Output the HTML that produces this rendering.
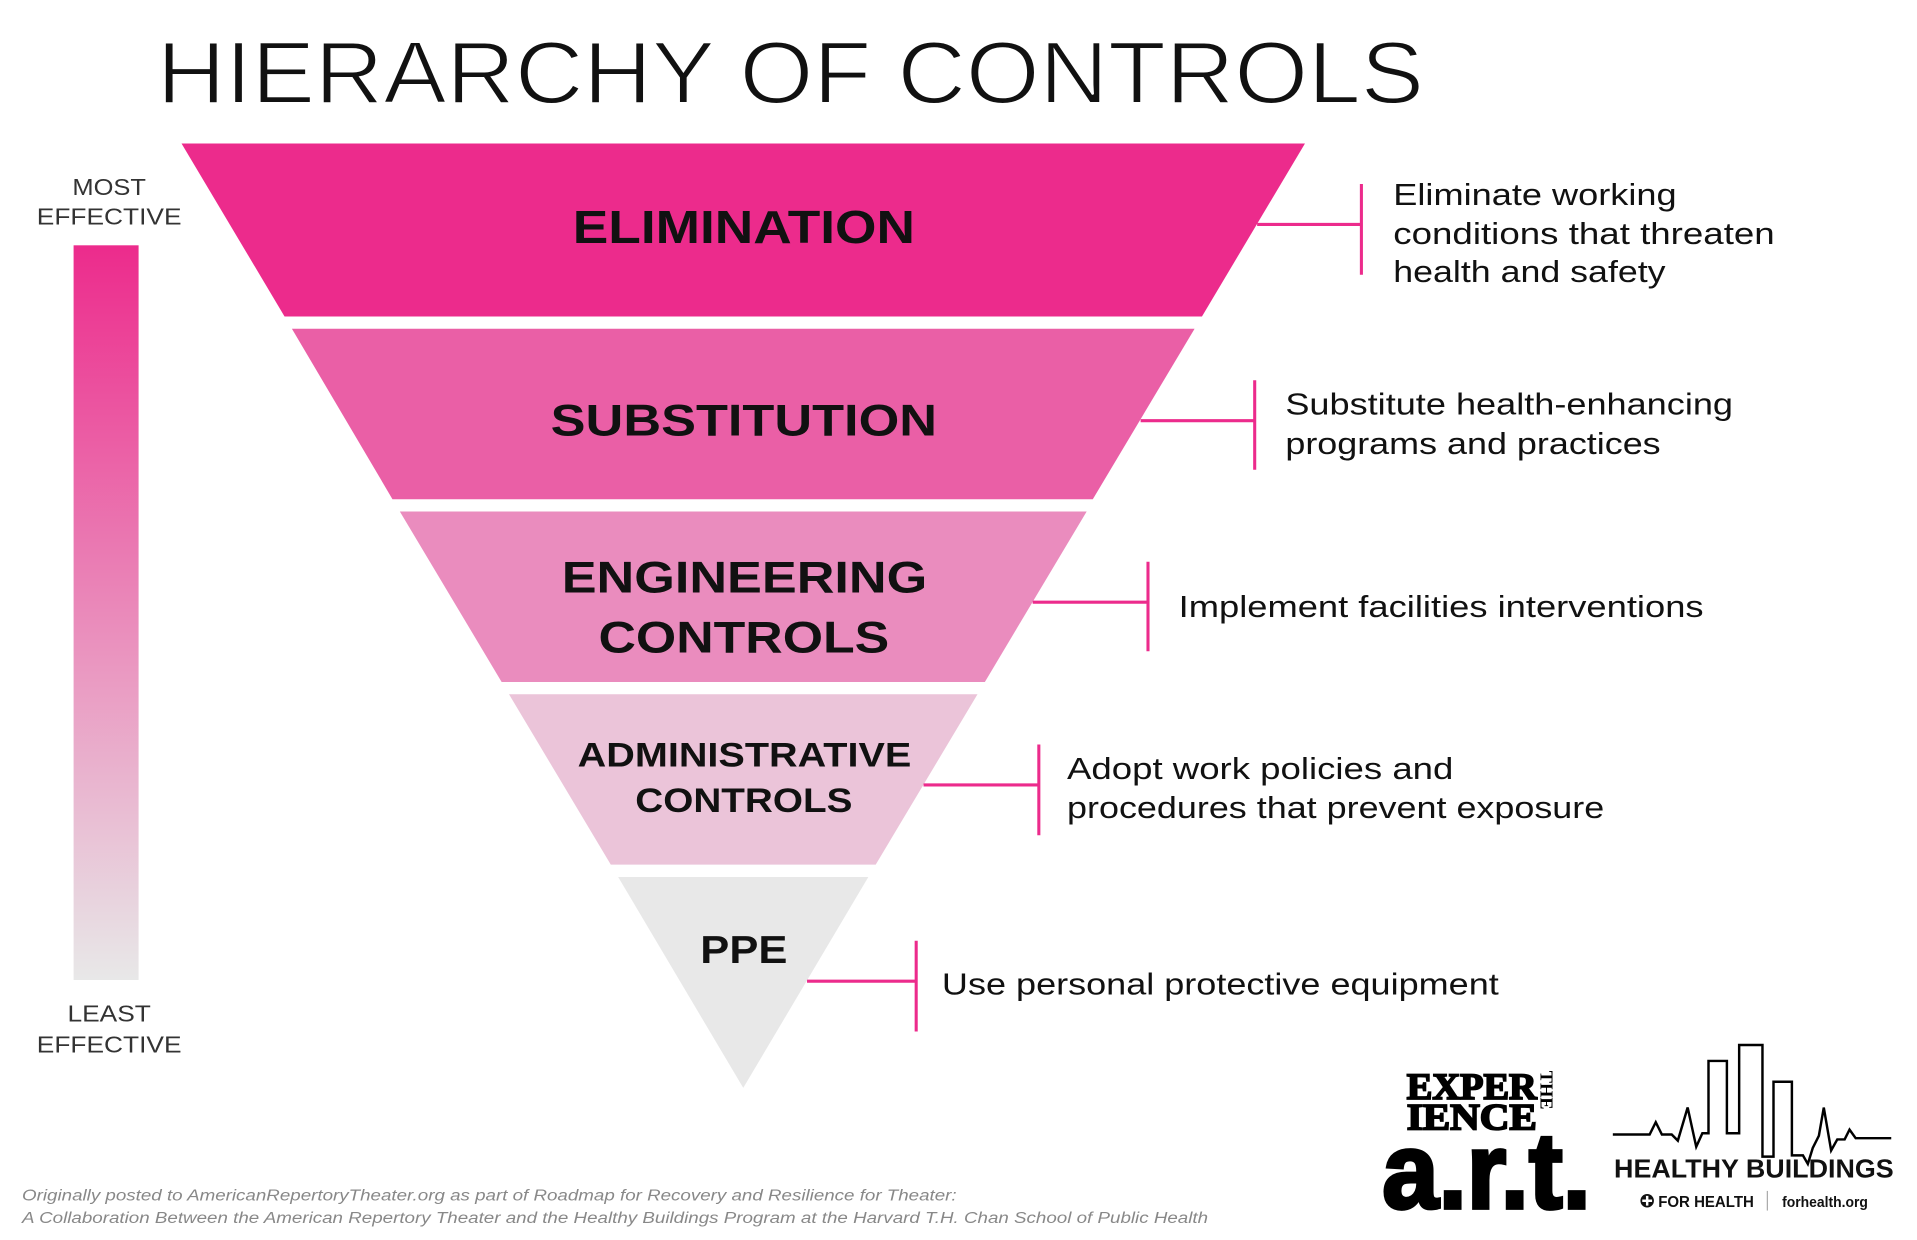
<!DOCTYPE html>
<html><head><meta charset="utf-8"><style>html,body{margin:0;padding:0;background:#fff}svg{display:block}</style></head><body>
<svg width="1917" height="1240" viewBox="0 0 1563 1011" xmlns="http://www.w3.org/2000/svg" font-family="Liberation Sans, sans-serif">
<defs><linearGradient id="g" x1="0" y1="0" x2="0" y2="1"><stop offset="0" stop-color="#ec2b8c"/><stop offset="1" stop-color="#e8e8e8"/></linearGradient></defs>
<rect width="1563" height="1011" fill="#fff"/>
<text x="128" y="84" font-size="72" fill="#111" stroke="#fff" stroke-width="1.6" paint-order="normal" textLength="1033" lengthAdjust="spacingAndGlyphs">HIERARCHY OF CONTROLS</text>
<polygon points="148,117 1064,117 980,258 232,258" fill="#ec2b8c"/>
<polygon points="238,268 974,268 891,407 320,407" fill="#ea5fa6"/>
<polygon points="326,417 886,417 803,556 409,556" fill="#ea8cbe"/>
<polygon points="415,566 797,566 714,705 498,705" fill="#ebc4d9"/>
<polygon points="504,715 708,715 606,887" fill="#e8e8e8"/>
<g font-weight="bold" fill="#111" lengthAdjust="spacingAndGlyphs">
<text x="467" y="198" font-size="38" textLength="279" lengthAdjust="spacingAndGlyphs">ELIMINATION</text>
<text x="449" y="355" font-size="36" textLength="315" lengthAdjust="spacingAndGlyphs">SUBSTITUTION</text>
<text x="458" y="483" font-size="36" textLength="298" lengthAdjust="spacingAndGlyphs">ENGINEERING</text>
<text x="488" y="532" font-size="36" textLength="237" lengthAdjust="spacingAndGlyphs">CONTROLS</text>
<text x="471" y="625" font-size="28" textLength="272" lengthAdjust="spacingAndGlyphs">ADMINISTRATIVE</text>
<text x="518" y="662" font-size="28" textLength="177" lengthAdjust="spacingAndGlyphs">CONTROLS</text>
<text x="571" y="785" font-size="32" textLength="71" lengthAdjust="spacingAndGlyphs">PPE</text>
</g>
<g stroke="#ec2b8c" stroke-width="2.5" fill="none">
<path d="M1025 183H1110M1110 150V224"/>
<path d="M930 343H1023M1023 310V383"/>
<path d="M842 491H936M936 458V531"/>
<path d="M753 640H847M847 607V681"/>
<path d="M658 800H747M747 767V841"/>
</g>
<g font-size="25" fill="#111">
<text x="1136" y="167" textLength="231" lengthAdjust="spacingAndGlyphs">Eliminate working</text>
<text x="1136" y="199" textLength="311" lengthAdjust="spacingAndGlyphs">conditions that threaten</text>
<text x="1136" y="230" textLength="222" lengthAdjust="spacingAndGlyphs">health and safety</text>
<text x="1048" y="338" textLength="365" lengthAdjust="spacingAndGlyphs">Substitute health-enhancing</text>
<text x="1048" y="370" textLength="306" lengthAdjust="spacingAndGlyphs">programs and practices</text>
<text x="961" y="503" textLength="428" lengthAdjust="spacingAndGlyphs">Implement facilities interventions</text>
<text x="870" y="635" textLength="315" lengthAdjust="spacingAndGlyphs">Adopt work policies and</text>
<text x="870" y="667" textLength="438" lengthAdjust="spacingAndGlyphs">procedures that prevent exposure</text>
<text x="768" y="811" textLength="454" lengthAdjust="spacingAndGlyphs">Use personal protective equipment</text>
</g>
<rect x="60" y="200" width="53" height="599" fill="url(#g)"/>
<g font-size="19" fill="#333">
<text x="59" y="159" textLength="60" lengthAdjust="spacingAndGlyphs">MOST</text><text x="30" y="183" textLength="118" lengthAdjust="spacingAndGlyphs">EFFECTIVE</text>
<text x="55" y="833" textLength="68" lengthAdjust="spacingAndGlyphs">LEAST</text><text x="30" y="858" textLength="118" lengthAdjust="spacingAndGlyphs">EFFECTIVE</text>
</g>
<g font-size="13" font-style="italic" fill="#888">
<text x="18" y="979" textLength="762" lengthAdjust="spacingAndGlyphs">Originally posted to AmericanRepertoryTheater.org as part of Roadmap for Recovery and Resilience for Theater:</text>
<text x="18" y="997" textLength="967" lengthAdjust="spacingAndGlyphs">A Collaboration Between the American Repertory Theater and the Healthy Buildings Program at the Harvard T.H. Chan School of Public Health</text>
</g>
<g fill="#000" font-family="Liberation Serif, serif" font-weight="bold">
<text x="1147" y="896" font-size="30" stroke="#000" stroke-width="1.5" textLength="106" lengthAdjust="spacingAndGlyphs">EXPER</text>
<text x="1147" y="921" font-size="30" stroke="#000" stroke-width="1.5" textLength="106" lengthAdjust="spacingAndGlyphs">IENCE</text>
<text x="1127" y="985" font-size="88" font-family="Liberation Sans, sans-serif" stroke="#000" stroke-width="3" textLength="170" lengthAdjust="spacingAndGlyphs">a.r.t.</text>
<text transform="translate(1256,873) rotate(90)" font-size="15">THE</text>
</g>
<polyline fill="none" stroke="#000" stroke-width="2" points="1315,925 1345,925 1350,915 1355,925 1363,925 1368,930 1376,903 1383,935 1388,924 1393,924 1393,865 1408,865 1408,924 1418,924 1418,852 1437,852 1437,943 1446,943 1446,882 1461,882 1461,942 1470,942 1474,949 1478,936 1483,926 1487,903 1493,938 1498,929 1504,929 1508,921 1513,928 1542,928"/>
<text x="1316" y="960" font-size="21" font-weight="bold" fill="#111" textLength="228" lengthAdjust="spacingAndGlyphs">HEALTHY BUILDINGS</text>
<circle cx="1343" cy="979" r="5.5" fill="#111"/><path d="M1343 975V983M1339 979H1347" stroke="#fff" stroke-width="2"/>
<text x="1352" y="984" font-size="13" font-weight="bold" fill="#111" textLength="78" lengthAdjust="spacingAndGlyphs">FOR HEALTH</text>
<line x1="1441" y1="971" x2="1441" y2="987" stroke="#aaa"/>
<text x="1453" y="984" font-size="12" font-weight="bold" fill="#111" textLength="70" lengthAdjust="spacingAndGlyphs">forhealth.org</text>
</svg>
</body></html>
